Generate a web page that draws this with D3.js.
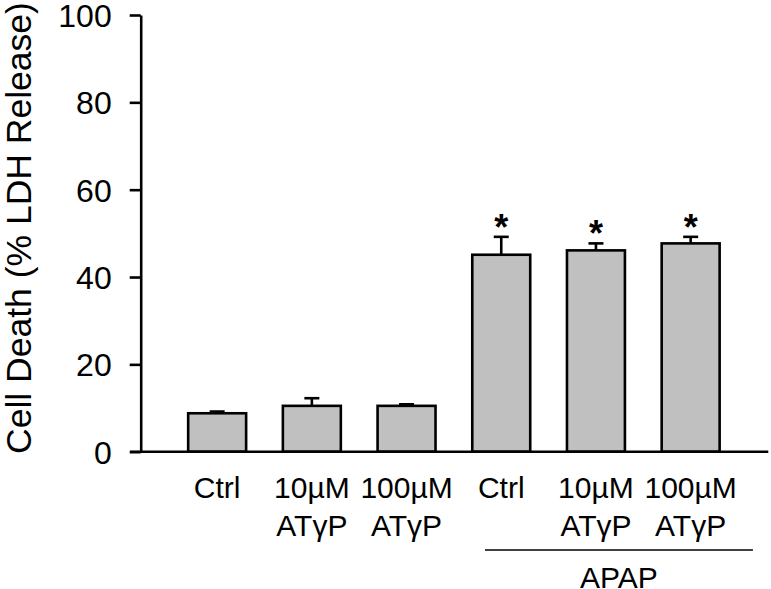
<!DOCTYPE html>
<html>
<head>
<meta charset="utf-8">
<script src="https://cdn.jsdelivr.net/npm/d3@7"></script>
<style>
  html, body { margin: 0; padding: 0; background: #fff; }
  svg { display: block; font-family: "Liberation Sans", Arial, sans-serif; }
</style>
</head>
<body>
<svg id="chart" width="771" height="589"></svg>
<script>
// ---- data ----
const categories = ["Ctrl|", "10µM|ATγP", "100µM|ATγP", "Ctrl|", "10µM|ATγP", "100µM|ATγP"];
const values = [8.8, 10.5, 10.5, 45.1, 46.1, 47.7];
const errors = [0.4, 1.75, 0.35, 4.1, 1.6, 1.5];
const significant = [false, false, false, true, true, true];
const yTicks = [0, 20, 40, 60, 80, 100];
const groupLabel = "APAP";
const groupMembers = [3, 4, 5];
const yTitle = "Cell Death (% LDH Release)";

// ---- layout ----
const svg = d3.select("#chart");
const y = d3.scaleLinear().domain([0, 100]).range([451.7, 15]);
const x = d3.scaleBand()
  .domain(d3.range(categories.length))
  .range([169.8, 738])
  .paddingInner(0.388)
  .paddingOuter(0.194);

const axisX = 140.7;
const lw = 2.6;

// bars
svg.append("g").selectAll("rect").data(values).join("rect")
  .attr("x", (d, i) => x(i))
  .attr("y", d => y(d))
  .attr("width", x.bandwidth())
  .attr("height", d => y(0) - y(d))
  .attr("fill", "#c0c0c0")
  .attr("stroke", "#000")
  .attr("stroke-width", lw);

// error bars (upper only)
const eg = svg.append("g").attr("stroke", "#000").attr("stroke-width", lw);
values.forEach((v, i) => {
  const cx = x(i) + x.bandwidth() / 2;
  eg.append("line").attr("x1", cx).attr("x2", cx).attr("y1", y(v)).attr("y2", y(v + errors[i]));
  eg.append("line").attr("x1", cx - 7.5).attr("x2", cx + 7.5).attr("y1", y(v + errors[i])).attr("y2", y(v + errors[i]));
});

// asterisks
const ag = svg.append("g");
values.forEach((v, i) => {
  if (!significant[i]) return;
  ag.append("text")
    .attr("x", x(i) + x.bandwidth() / 2)
    .attr("y", y(v + errors[i]) + 3)
    .attr("text-anchor", "middle")
    .attr("font-size", 36)
    .attr("font-weight", "bold")
    .text("*");
});

// y axis
const yAxis = d3.axisLeft(y).tickValues(yTicks).tickSize(11).tickPadding(18).tickSizeOuter(0);
const yg = svg.append("g").attr("transform", `translate(${axisX},0)`).call(yAxis);
yg.select(".domain").attr("stroke-width", lw).attr("stroke", "#000");
yg.selectAll(".tick line").attr("stroke-width", lw).attr("stroke", "#000");
yg.selectAll(".tick text").attr("font-size", 32).attr("fill", "#000")
  .attr("font-family", "Liberation Sans, Arial, sans-serif").attr("dy", "0.36em");

// x axis baseline
svg.append("line")
  .attr("x1", 130).attr("x2", 768.3)
  .attr("y1", y(0)).attr("y2", y(0))
  .attr("stroke", "#000").attr("stroke-width", lw);

// category labels
const lg = svg.append("g").attr("font-size", 30).attr("text-anchor", "middle").attr("fill", "#000");
categories.forEach((c, i) => {
  const parts = c.split("|");
  const cx = x(i) + x.bandwidth() / 2;
  lg.append("text").attr("x", cx).attr("y", 497.5).text(parts[0]);
  if (parts[1]) lg.append("text").attr("x", cx).attr("y", 535.5).text(parts[1]);
});

// group line + label
const gx1 = x(groupMembers[0]) + 12.7;
const gx2 = x(groupMembers[groupMembers.length - 1]) + x.bandwidth() + 33.3;
svg.append("line").attr("x1", gx1).attr("x2", gx2).attr("y1", 550).attr("y2", 550)
  .attr("stroke", "#000").attr("stroke-width", 1.5);
svg.append("text").attr("x", (gx1 + gx2) / 2).attr("y", 587.5)
  .attr("text-anchor", "middle").attr("font-size", 30).text(groupLabel);

// y title
svg.append("text")
  .attr("transform", `translate(30.5,228) rotate(-90)`)
  .attr("text-anchor", "middle")
  .attr("font-size", 35.5)
  .text(yTitle);
</script>
</body>
</html>
